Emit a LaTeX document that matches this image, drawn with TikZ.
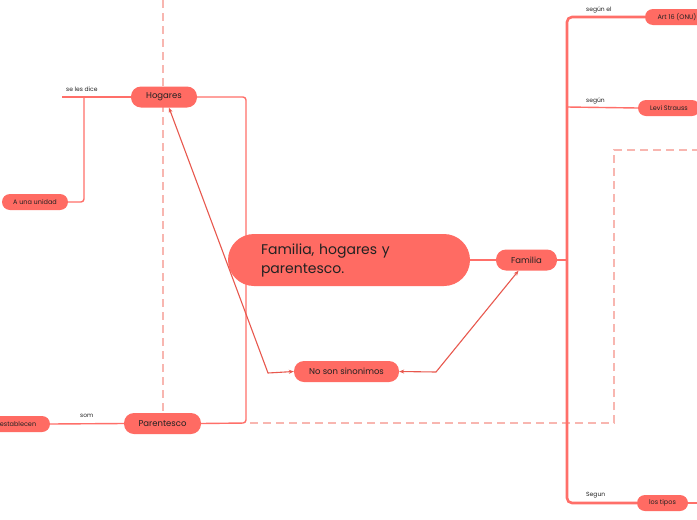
\documentclass[tikz,border=0pt]{standalone}
\usepackage{fontspec}
\setmainfont{Poppins}
\usetikzlibrary{arrows.meta}
\definecolor{nodefill}{HTML}{FF6B63}
\definecolor{linec}{HTML}{FF6F69}
\definecolor{dashc}{HTML}{F8B6B0}
\definecolor{arrowc}{HTML}{E8584E}
\definecolor{txt}{HTML}{222222}
\begin{document}
\begin{tikzpicture}[x=1pt,y=-1pt,
  topic/.style={fill=nodefill, text=txt, rounded corners=10pt, minimum height=21pt, inner sep=0pt, font=\fontsize{8.5}{10}\selectfont},
  leaf/.style={fill=nodefill, text=txt, rounded corners=8pt, minimum height=16pt, inner sep=0pt, font=\fontsize{6.5}{8}\selectfont},
  central/.style={fill=nodefill, text=txt, rounded corners=26pt, minimum height=52pt, inner xsep=33pt, inner ysep=0pt, text width=176pt, align=left, font=\fontsize{14}{19}\selectfont},
  conn/.style={draw=linec, line width=1.4pt, rounded corners=3pt},
  trunk/.style={draw=linec, line width=2.6pt, rounded corners=5pt},
  twig/.style={draw=linec, line width=1.4pt},
  dashline/.style={draw=dashc, line width=1.4pt, dash pattern=on 8pt off 5pt},
  arr/.style={draw=arrowc, line width=1.1pt, {Stealth[length=5pt,width=4pt]}-{Stealth[length=5pt,width=4pt]}},
  lbl/.style={text=txt, inner sep=0pt, font=\fontsize{6}{7}\selectfont}
]
\useasboundingbox (0,0) rectangle (697,520);
\fill[white] (0,0) rectangle (697,520);

% coordinates
\coordinate (hl) at (62,97);
\coordinate (hj) at (84,97);
\coordinate (hr) at (246,97);
\coordinate (hb) at (246,423);
\coordinate (ab) at (84,202);
\coordinate (tt) at (567,17);
\coordinate (tl) at (567,107);
\coordinate (tb) at (567,503);
\coordinate (tm) at (567,260);
\coordinate (d0) at (163,0);
\coordinate (d1) at (163,413);
\coordinate (e0) at (250,423);
\coordinate (e1) at (614,423);
\coordinate (e2) at (614,150);
\coordinate (e3) at (697,150);
\coordinate (a1) at (268,373);
\coordinate (a2) at (436,372);
\coordinate (re) at (697,503);

% dashed guides
\draw[dashline] (d0) -- (d1);
\draw[dashline] (e0) -- (e1) -- (e2) -- (e3);

% nodes
\node[topic, minimum width=66pt] (hog) at (164,97) {Hogares};
\node[topic, minimum width=77pt] (par) at (162.5,423.5) {Parentesco};
\node[topic, minimum width=105pt] (nss) at (346.5,371.5) {No son sinonimos};
\node[topic, minimum width=61pt] (fam) at (526.5,260) {Familia};
\node[leaf, minimum width=66pt] (una) at (35,202) {A una unidad};
\node[leaf, minimum width=64pt] (est) at (18,424) {establecen};
\node[leaf, minimum width=64pt] (art) at (677,17) {Art 16 (ONU)};
\node[leaf, minimum width=62pt] (levi) at (669,108) {Levi Strauss};
\node[leaf, minimum width=51pt] (tip) at (662.5,503) {los tipos};

% connectors (behind central)
\draw[conn] (hog.east) -- (hr) -- (hb) -- (par.east);
\draw[twig] (hog.west) -- (hl);
\draw[conn] (hj) -- (ab) -- (una.east);
\draw[twig] (par.west) -- (est.east);
\draw[conn] (fam.east) -- (tm);
\draw[trunk] (art.west) -- (tt) -- (tb) -- (tip.west);
\draw[twig] (tl) -- (levi.west);
\draw[twig] (tip.east) -- (re);

\node[central] (c) at (349,260) {Familia, hogares y\\parentesco.};
\draw[conn] (c.east) -- (fam.west);

% arrows
\draw[arr] ([xshift=5pt]hog.south) -- (a1) -- (nss.west);
\draw[arr] (nss.east) -- (a2) -- ([xshift=-8pt]fam.south);

% labels
\node[lbl, anchor=south west] (l1) at (66,92) {se les dice};
\node[lbl, anchor=south west] (l2) at (80,418) {som};
\node[lbl, anchor=south west] (l3) at (586,13) {según el};
\node[lbl, anchor=south west] (l4) at (586,104) {según};
\node[lbl, anchor=south west] (l5) at (586,498) {Segun};
\end{tikzpicture}
\end{document}
